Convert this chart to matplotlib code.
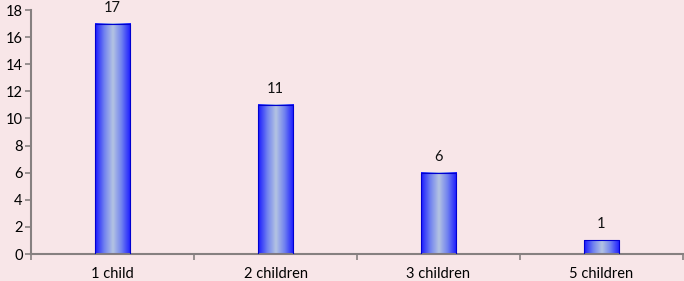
import matplotlib.pyplot as plt
import numpy as np
from matplotlib.colors import LinearSegmentedColormap

categories = ["1 child", "2 children", "3 children", "5 children"]
values = [17, 11, 6, 1]

bg = "#f8e6e8"
axis_col = "#868080"
fonts = ['Lato', 'DejaVu Sans']

fig = plt.figure(figsize=(6.84, 2.81), dpi=100, facecolor=bg)
ax = fig.add_axes([31 / 684, 27 / 281, 652 / 684, 244 / 281], facecolor=bg)

# horizontal gradient: blue edges, pale centre
cmap = LinearSegmentedColormap.from_list("bar", ["#1a1aff", "#6f80f0", "#b4c4e2", "#6f80f0", "#1a1aff"])
grad = np.linspace(0, 1, 64).reshape(1, -1)
width = 0.22

x = np.arange(len(categories))
for xi, v in zip(x, values):
    ax.imshow(grad, cmap=cmap, aspect="auto", extent=[xi - width / 2, xi + width / 2, 0, v],
              zorder=2, interpolation="bilinear")
    ax.add_patch(plt.Rectangle((xi - width / 2, 0), width, v, fill=False,
                               edgecolor="#0000d0", linewidth=0.8, zorder=3))
    ax.annotate(str(v), (xi, v), xytext=(0, 6.5), textcoords="offset points",
                ha="center", va="bottom", fontsize=10.5, color="#111111", family=fonts)

ax.set_xlim(-0.5, len(categories) - 0.5)
ax.set_ylim(0, 18)
ax.set_yticks(np.arange(0, 19, 2))
ax.set_xticks(np.arange(-0.5, len(categories), 1.0))
ax.set_xticklabels([])
ax.set_xticks(x, minor=True)
ax.set_xticklabels(categories, minor=True, fontsize=10.5, family=fonts)
ax.tick_params(axis="x", which="minor", length=0, pad=9)
ax.tick_params(axis="x", which="major", length=4, color=axis_col, width=1.2)
ax.tick_params(axis="y", length=4, color=axis_col, width=1.2, labelsize=10.5, pad=2)
for lab in ax.get_yticklabels():
    lab.set_family(fonts)

for s in ["top", "right"]:
    ax.spines[s].set_visible(False)
for s in ["left", "bottom"]:
    ax.spines[s].set_color(axis_col)
    ax.spines[s].set_linewidth(1.5)

fig.savefig("out.png", dpi=100, facecolor=bg)
